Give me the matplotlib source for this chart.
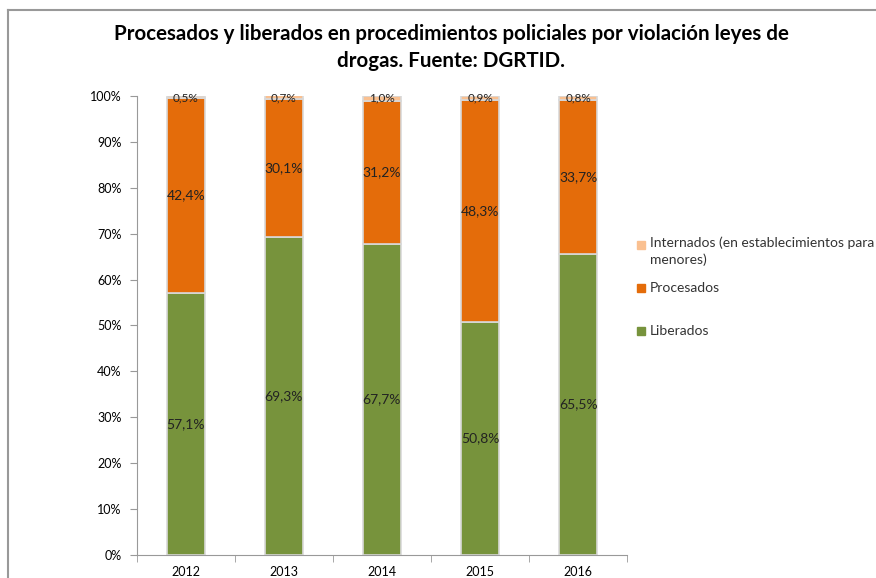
import matplotlib.pyplot as plt
import matplotlib.patches as mpatches
from matplotlib.ticker import FuncFormatter

plt.rcParams['font.family'] = ['Lato', 'DejaVu Sans']

years = ['2012', '2013', '2014', '2015', '2016']
liberados = [57.1, 69.3, 67.7, 50.8, 65.5]
procesados = [42.4, 30.1, 31.2, 48.3, 33.7]
internados = [0.5, 0.7, 1.0, 0.9, 0.8]

c_lib = '#77933C'
c_pro = '#E46C0A'
c_int = '#FAC090'

fig = plt.figure(figsize=(8.76, 5.78), dpi=100)
ax = fig.add_axes([0.156, 0.040, 0.560, 0.794])

x = range(len(years))
w = 0.39
edge = dict(edgecolor='#d9d9d9', linewidth=1.2)
ax.bar(x, liberados, w, color=c_lib, **edge)
ax.bar(x, procesados, w, bottom=liberados, color=c_pro, **edge)
bottom3 = [a + b for a, b in zip(liberados, procesados)]
ax.bar(x, internados, w, bottom=bottom3, color=c_int, **edge)


def pct(v):
    return f'{v:.1f}%'.replace('.', ',')


for i in x:
    ax.text(i, liberados[i] / 2, pct(liberados[i]), ha='center', va='center',
            fontsize=10, color='#222222')
    ax.text(i, liberados[i] + procesados[i] / 2, pct(procesados[i]),
            ha='center', va='center', fontsize=10, color='#222222')
    ax.text(i, 99.6, pct(internados[i]), ha='center', va='center',
            fontsize=8.5, color='#222222')

ax.set_xlim(-0.5, 4.5)
ax.set_ylim(0, 100)
ax.set_yticks(range(0, 101, 10))
ax.yaxis.set_major_formatter(FuncFormatter(lambda v, p: f'{int(v)}%'))
ax.set_xticks(list(x))
ax.set_xticklabels(years)
ax.set_xticks([i - 0.5 for i in range(6)], minor=True)
ax.tick_params(axis='x', which='major', length=0, pad=8, labelsize=9)
ax.tick_params(axis='x', which='minor', length=5, color='#999999')
ax.tick_params(axis='y', length=5, color='#999999', labelsize=9, pad=6)
for s in ['top', 'right']:
    ax.spines[s].set_visible(False)
for s in ['left', 'bottom']:
    ax.spines[s].set_color('#999999')

fig.text(0.515, 0.918, 'Procesados y liberados en procedimientos policiales por violación leyes de\ndrogas. Fuente: DGRTID.',
         ha='center', va='center', fontsize=14.8, fontweight='bold', linespacing=1.45)

# legend (drawn by hand to match the spacing)
H = 578
legend_items = [
    (c_int, 'Internados (en establecimientos para\nmenores)', 245),
    (c_pro, 'Procesados', 288),
    (c_lib, 'Liberados', 331),
]
for col, lab, yp in legend_items:
    fig.patches.append(mpatches.Rectangle((637 / 876, 1 - (yp + 4) / H), 8 / 876, 8 / H,
                                          transform=fig.transFigure, color=col))
    if '\n' in lab:
        fig.text(650 / 876, 1 - (yp - 9) / H, lab, ha='left', va='top',
                 fontsize=10, color='#333333', linespacing=1.5)
    else:
        fig.text(650 / 876, 1 - yp / H, lab, ha='left', va='center',
                 fontsize=10, color='#333333')

# frame
fig.add_artist(plt.Line2D([8 / 876, 1], [1 - 10 / H, 1 - 10 / H], color='#999999', lw=1.5,
                          transform=fig.transFigure))
fig.add_artist(plt.Line2D([8 / 876, 8 / 876], [0, 1 - 10 / H], color='#999999', lw=1.5,
                          transform=fig.transFigure))

fig.savefig('out.png', dpi=100)
